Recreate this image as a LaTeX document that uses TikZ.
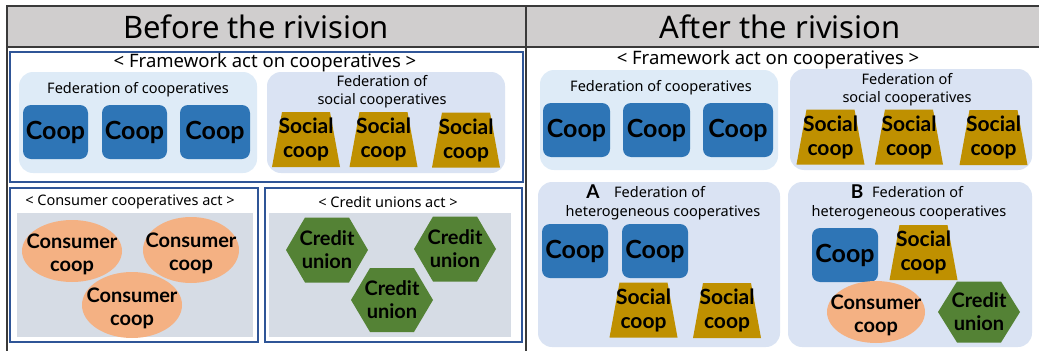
\documentclass[tikz,border=0pt]{standalone}
\usepackage{fontspec}
\setmainfont{Noto Sans}
\newfontfamily\boldf{Lato}
\definecolor{coopblue}{HTML}{2E75B6}
\definecolor{socgold}{HTML}{BF9000}
\definecolor{consor}{HTML}{F4B183}
\definecolor{credgreen}{HTML}{548235}
\definecolor{actgray}{HTML}{D6DCE5}
\definecolor{fedlight}{HTML}{DEEBF7}
\definecolor{fedlav}{HTML}{DAE3F3}
\definecolor{hdrgray}{HTML}{D0CECE}
\definecolor{framebl}{HTML}{2F5597}
\definecolor{tabline}{HTML}{3A3A3A}
\tikzset{
  x=1pt, y=-1pt,
  coopn/.style={fill=coopblue, rounded corners=8pt, minimum height=54pt, inner sep=0pt,
    font=\boldf\bfseries\fontsize{25}{28}\selectfont},
  lbl/.style={font=\fontsize{14.5}{18}\selectfont, align=center, inner sep=0pt},
  ttl/.style={font=\fontsize{18.5}{22}\selectfont, inner sep=0pt},
  hdr/.style={font=\fontsize{31}{36}\selectfont, inner sep=0pt},
  twol/.style={font=\boldf\bfseries\fontsize{21}{24}\selectfont, align=center, inner sep=0pt},
  consl/.style={font=\boldf\bfseries\fontsize{20}{23}\selectfont, align=center, inner sep=0pt},
  letl/.style={font=\boldf\bfseries\fontsize{19}{20}\selectfont, inner sep=0pt},
  tabl/.style={draw=tabline, line width=1.5pt},
  actframe/.style={draw=framebl, line width=1.5pt},
  fedbox/.style={rounded corners=14pt},
}
\newcommand\SocialAt[3]{%
  \fill[socgold, shift={(#2,#3)}] (-34,27.5) -- (34,27.5) -- (24,-27.5) -- (-24,-27.5) -- cycle;
  \node[twol] (#1) at (#2,#3) {Social\\coop};}
\newcommand\ConsAt[5]{%
  \fill[consor] (#2,#3) ellipse [x radius=#4pt, y radius=#5pt];
  \node[consl] (#1) at (#2,#3+3) {Consumer\\coop};}
\newcommand\CredAt[4]{%
  \fill[credgreen, shift={(#2,#3)}] (-41,0) -- (-22,-#4) -- (22,-#4) -- (41,0) -- (22,#4) -- (-22,#4) -- cycle;
  \node[consl] (#1) at (#2,#3) {Credit\\union};}
\begin{document}
\begin{tikzpicture}
\useasboundingbox (0,0) rectangle (1039,351);
% table
\fill[hdrgray] (7,6) rectangle (1039,47);
\draw[tabl] (1039,6) -- (7,6) -- (7,351);
\draw[tabl] (7,47) -- (1039,47);
\draw[tabl] (526,6) -- (526,351);
\node[hdr] (hbefore) at (256,27) {Before the rivision};
\node[hdr] (hafter) at (780,27) {After the rivision};

% ---------- BEFORE ----------
\draw[actframe] (10,52) rectangle (523,182);
\node[ttl] (bfw) at (265,63) {< Framework act on cooperatives >};
\fill[fedlight, fedbox] (19,72) rectangle (257,173);
\fill[fedlav, fedbox] (267,72) rectangle (505,173);
\node[lbl] (bfedc) at (138,90) {Federation of cooperatives};
\node[lbl] (bfeds) at (382,92) {Federation of\\social cooperatives};
\node[coopn, minimum width=65pt] (bc1) at (55.5,132) {Coop};
\node[coopn, minimum width=65pt] (bc2) at (134.5,132) {Coop};
\node[coopn, minimum width=70pt] (bc3) at (215,132) {Coop};
\SocialAt{bs1}{306}{139.5}
\SocialAt{bs2}{383.5}{139.5}
\SocialAt{bs3}{466}{140}

\draw[actframe] (10,188) rectangle (258,342);
\node[lbl] (bconsact) at (130,202) {< Consumer cooperatives act >};
\fill[actgray] (17,213) rectangle (253,337);
\ConsAt{be1}{72}{251}{50}{31}
\ConsAt{be2}{191}{250}{48}{33}
\ConsAt{be3}{132}{305}{50}{33}

\draw[actframe] (265,188) rectangle (522,342);
\node[lbl] (bcredact) at (388,202) {< Credit unions act >};
\fill[actgray] (269,213) rectangle (511,337);
\CredAt{bh1}{327}{250}{32.5}
\CredAt{bh2}{455}{249}{32.5}
\CredAt{bh3}{392}{300}{32}

% ---------- AFTER ----------
\node[ttl] (afw) at (768,60) {< Framework act on cooperatives >};
\fill[fedlight, fedbox] (540,70) rectangle (778,170);
\fill[fedlav, fedbox] (790,69) rectangle (1032,170);
\node[lbl] (afedc) at (661,88) {Federation of cooperatives};
\node[lbl] (afeds) at (907,90) {Federation of\\social cooperatives};
\node[coopn, minimum width=67pt] (ac1) at (576.5,130) {Coop};
\node[coopn, minimum width=67pt] (ac2) at (656.5,130) {Coop};
\node[coopn, minimum width=70pt] (ac3) at (738,130) {Coop};
\SocialAt{as1}{830.5}{137}
\SocialAt{as2}{909}{137}
\SocialAt{as3}{993.5}{137.5}

% A
\fill[fedlav, fedbox] (538,182) rectangle (780,347);
\node[letl] (aA) at (593,192) {A};
\node[lbl, anchor=west] (aAt1) at (614,192) {Federation of};
\node[lbl] (aAt2) at (663,213) {heterogeneous cooperatives};
\node[coopn, minimum width=66pt] (aac1) at (575,251) {Coop};
\node[coopn, minimum width=66pt] (aac2) at (655,251) {Coop};
\SocialAt{aas1}{643.5}{310}
\SocialAt{aas2}{727}{310.5}

% B
\fill[fedlav, fedbox] (788,182) rectangle (1032,347);
\node[letl] (aB) at (857,192) {B};
\node[lbl, anchor=west] (aBt1) at (872,192) {Federation of};
\node[lbl] (aBt2) at (909,213) {heterogeneous cooperatives};
\node[coopn, minimum width=66pt] (abc1) at (845,255) {Coop};
\SocialAt{abs1}{923.5}{252.5}
\ConsAt{abe1}{876}{312}{49}{31}
\CredAt{abh1}{979}{312}{30.5}
\end{tikzpicture}
\end{document}
